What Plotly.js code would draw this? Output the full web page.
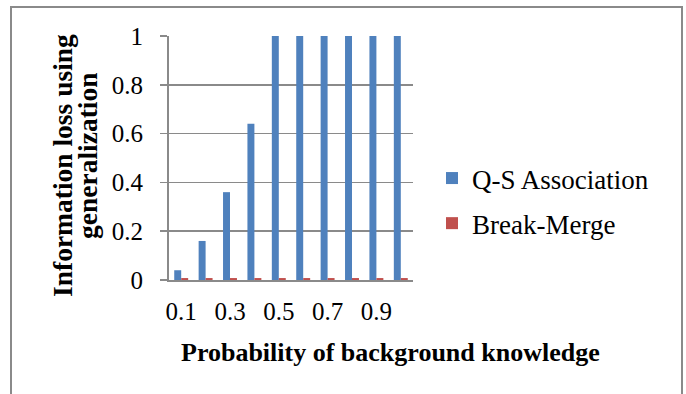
<!DOCTYPE html>
<html>
<head>
<meta charset="utf-8">
<script src="https://cdn.plot.ly/plotly-3.0.1.min.js"></script>
<style>html,body{margin:0;padding:0;background:#fff;}#chart{width:686px;height:394px;}</style>
</head>
<body>
<div id="chart"></div>
<script>
// Data
const categories = ['0.1','0.2','0.3','0.4','0.5','0.6','0.7','0.8','0.9','1'];
const qsAssociation = [0.04, 0.16, 0.36, 0.64, 1, 1, 1, 1, 1, 1];
const breakMerge = [0.008, 0.008, 0.008, 0.008, 0.008, 0.008, 0.008, 0.008, 0.008, 0.008];
const xTickLabels = ['0.1','0.3','0.5','0.7','0.9'];
const yTickLabels = ['0','0.2','0.4','0.6','0.8','1'];
const yTickValues = [0, 0.2, 0.4, 0.6, 0.8, 1];

const W = 686, H = 394;
const M = {l: 169, r: 273, t: 36, b: 114};
const PW = W - M.l - M.r, PH = H - M.t - M.b;
const px = x => (x - M.l) / PW;
const py = y => (H - M.b - y) / PH;

const serif = 'Liberation Serif, Times New Roman, Times, serif';
const gray = '#8a8a8a';

const traces = [
  {type: 'bar', name: 'Q-S Association', x: categories, y: qsAssociation,
   marker: {color: '#4f81bd'}, legendgroup: 'a'},
  {type: 'bar', name: 'Break-Merge', x: categories, y: breakMerge,
   marker: {color: '#c0504d'}, legendgroup: 'b'}
];

const layout = {
  width: W, height: H,
  margin: M,
  paper_bgcolor: '#fff', plot_bgcolor: '#fff',
  barmode: 'group', bargap: 0.4286, bargroupgap: 0,
  font: {family: serif, color: '#000'},
  showlegend: true,
  legend: {x: px(432), y: py(154), xanchor: 'left', yanchor: 'top',
           font: {family: serif, size: 27, color: '#000'},
           tracegroupgap: 7, traceorder: 'grouped', bgcolor: 'rgba(0,0,0,0)'},
  xaxis: {type: 'category', tickvals: xTickLabels, ticktext: xTickLabels,
          showgrid: false, zeroline: false, showline: true, linecolor: gray, linewidth: 2,
          ticks: '', tickfont: {family: serif, size: 25}, ticklabelstandoff: 8},
  yaxis: {range: [0, 1], tickvals: yTickValues, ticktext: yTickLabels,
          showgrid: true, gridcolor: gray, gridwidth: 1.5, zeroline: false,
          showline: true, linecolor: gray, linewidth: 2,
          ticks: 'outside', ticklen: 7, tickcolor: gray, tickwidth: 1.5,
          tickfont: {family: serif, size: 25}, ticklabelstandoff: 12},
  annotations: [
    {text: '<b>Probability of background knowledge</b>', xref: 'paper', yref: 'paper',
     x: px(390), y: py(352), xanchor: 'center', yanchor: 'middle', showarrow: false,
     font: {family: serif, size: 26, color: '#000'}},
    {text: '<b>Information loss using</b>', xref: 'paper', yref: 'paper',
     x: px(62), y: py(166), xanchor: 'center', yanchor: 'middle', showarrow: false,
     textangle: -90, font: {family: serif, size: 27.5, color: '#000'}},
    {text: '<b>generalization</b>', xref: 'paper', yref: 'paper',
     x: px(87), y: py(156), xanchor: 'center', yanchor: 'middle', showarrow: false,
     textangle: -90, font: {family: serif, size: 27.5, color: '#000'}}
  ],
  shapes: [
    {type: 'rect', xref: 'paper', yref: 'paper', x0: px(11), x1: px(682), y0: py(420), y1: py(7),
     line: {color: gray, width: 2}, fillcolor: 'rgba(0,0,0,0)', layer: 'below'}
  ]
};

Plotly.newPlot('chart', traces, layout, {displayModeBar: false, staticPlot: true});
</script>
</body>
</html>
